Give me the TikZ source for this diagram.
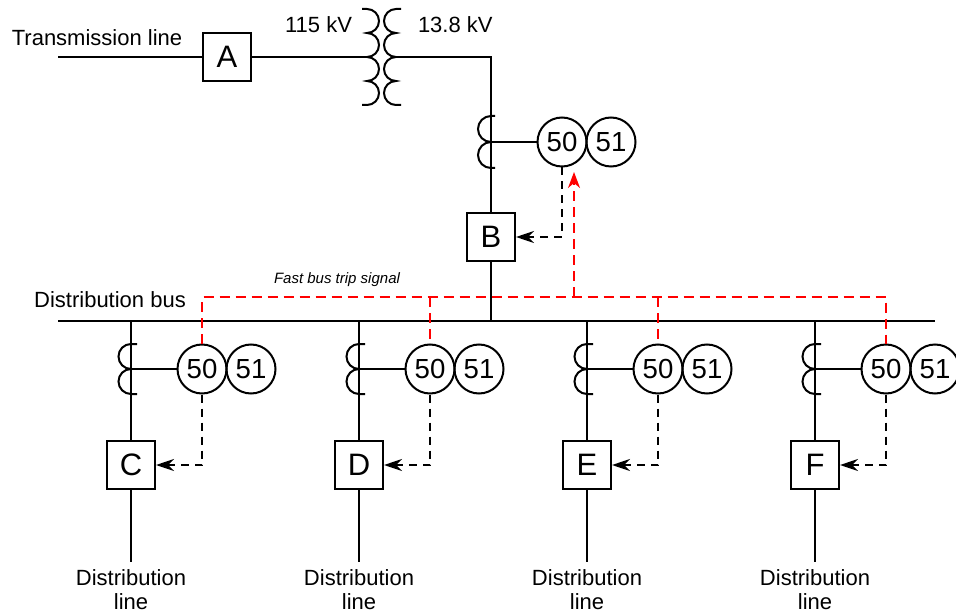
\documentclass[tikz,border=0pt]{standalone}
\usepackage{fontspec}
\setmainfont{Liberation Sans}
\usetikzlibrary{arrows.meta}

\tikzset{
  brk/.style={draw, minimum size=24pt, inner sep=0pt, font=\fontsize{15.5}{18}\selectfont},
  relay/.style={draw, circle, minimum size=24.5pt, inner sep=0pt, font=\fontsize{13.8}{16}\selectfont},
  lbl/.style={font=\fontsize{11}{12}\selectfont, inner sep=0pt, align=center},
  trip/.style={dash pattern=on 4pt off 3pt, -{Stealth[length=9pt,width=6pt,inset=3pt]}},
  fast/.style={red, dash pattern=on 5pt off 3pt},
}

\begin{document}
\begin{tikzpicture}[x=0.5pt,y=-0.5pt,line width=1pt]
  \useasboundingbox (0,0) rectangle (956,614);
  % transmission line, breaker A and transformer
  \node[lbl] (tlab) at (97,38) {Transmission line};
  \coordinate (tl) at (58,57);
  \node[brk] (A) at (227,57) {A};
  \coordinate (tp) at (367,57);
  \coordinate (ts) at (396,57);
  \coordinate (tk) at (491,57);
  \draw (tl) -- (A);
  \draw (A) -- (tp);
  \draw (362,9) -- (367,9) arc[start angle=90,end angle=-90,radius=6pt] arc[start angle=90,end angle=-90,radius=6pt]
    arc[start angle=90,end angle=-90,radius=6pt] arc[start angle=90,end angle=-90,radius=6pt] -- (362,105);
  \draw (401,9) -- (396,9) arc[start angle=90,end angle=270,radius=6pt] arc[start angle=90,end angle=270,radius=6pt]
    arc[start angle=90,end angle=270,radius=6pt] arc[start angle=90,end angle=270,radius=6pt] -- (401,105);
  \node[lbl, anchor=east] (vp) at (353,25) {115 kV};
  \node[lbl, anchor=west] (vs) at (417,25) {13.8 kV};
  % feeder to the bus, breaker B
  \node[brk] (B) at (491,237) {B};
  \coordinate (busB) at (491,321);
  \draw (ts) -- (tk) -- (B);
  \draw (B) -- (busB);
  \draw (495,116) -- (491,116) arc[start angle=90,end angle=270,radius=6.5pt] arc[start angle=90,end angle=270,radius=6.5pt] -- (495,168);
  \coordinate (ctB) at (491,142);
  \node[relay] (r50B) at (562,142) {50};
  \node[relay] (r51B) at (611,142) {51};
  \draw (ctB) -- (r50B);
  \draw[trip] (r50B.south) |- (B.east);
  % distribution bus
  \node[lbl] (blab) at (110,300) {Distribution bus};
  \coordinate (bus0) at (58,321);
  \coordinate (bus1) at (935,321);
  \draw (bus0) -- (bus1);
  % feeder C
  \coordinate (busC) at (131,321);
  \node[brk] (C) at (131,465) {C};
  \coordinate (endC) at (131,562);
  \draw (busC) -- (C);
  \draw (C) -- (endC);
  \draw (137,344) -- (131,344) arc[start angle=90,end angle=270,radius=6.25pt] arc[start angle=90,end angle=270,radius=6.25pt] -- (137,394);
  \coordinate (ctC) at (131,369);
  \node[relay] (r50C) at (202,369) {50};
  \node[relay] (r51C) at (251,369) {51};
  \draw (ctC) -- (r50C);
  \draw[trip] (r50C.south) |- (C.east);
  \node[lbl] (lC) at (131,590) {Distribution\\line};
  % feeder D
  \coordinate (busD) at (359,321);
  \node[brk] (D) at (359,465) {D};
  \coordinate (endD) at (359,562);
  \draw (busD) -- (D);
  \draw (D) -- (endD);
  \draw (365,344) -- (359,344) arc[start angle=90,end angle=270,radius=6.25pt] arc[start angle=90,end angle=270,radius=6.25pt] -- (365,394);
  \coordinate (ctD) at (359,369);
  \node[relay] (r50D) at (430,369) {50};
  \node[relay] (r51D) at (479,369) {51};
  \draw (ctD) -- (r50D);
  \draw[trip] (r50D.south) |- (D.east);
  \node[lbl] (lD) at (359,590) {Distribution\\line};
  % feeder E
  \coordinate (busE) at (587,321);
  \node[brk] (E) at (587,465) {E};
  \coordinate (endE) at (587,562);
  \draw (busE) -- (E);
  \draw (E) -- (endE);
  \draw (593,344) -- (587,344) arc[start angle=90,end angle=270,radius=6.25pt] arc[start angle=90,end angle=270,radius=6.25pt] -- (593,394);
  \coordinate (ctE) at (587,369);
  \node[relay] (r50E) at (658,369) {50};
  \node[relay] (r51E) at (707,369) {51};
  \draw (ctE) -- (r50E);
  \draw[trip] (r50E.south) |- (E.east);
  \node[lbl] (lE) at (587,590) {Distribution\\line};
  % feeder F
  \coordinate (busF) at (815,321);
  \node[brk] (F) at (815,465) {F};
  \coordinate (endF) at (815,562);
  \draw (busF) -- (F);
  \draw (F) -- (endF);
  \draw (821,344) -- (815,344) arc[start angle=90,end angle=270,radius=6.25pt] arc[start angle=90,end angle=270,radius=6.25pt] -- (821,394);
  \coordinate (ctF) at (815,369);
  \node[relay] (r50F) at (886,369) {50};
  \node[relay] (r51F) at (935,369) {51};
  \draw (ctF) -- (r50F);
  \draw[trip] (r50F.south) |- (F.east);
  \node[lbl] (lF) at (815,590) {Distribution\\line};
  % fast bus trip
  \coordinate (fb) at (0,297);
  \coordinate (fbB) at (574,297);
  \coordinate (tipB) at (574,172);
  \node[lbl, font=\fontsize{7.5}{9}\selectfont\itshape] (flab) at (337,280) {Fast bus trip signal};
  \draw[fast] (r50C.north) -- (r50C.north |- fb) -- (r50F.north |- fb) -- (r50F.north);
  \draw[fast] (r50D.north |- fb) -- (r50D.north);
  \draw[fast] (r50E.north |- fb) -- (r50E.north);
  \draw[fast, -{Stealth[length=8pt,width=6pt,inset=2.5pt]}] (fbB) -- (tipB);
\end{tikzpicture}
\end{document}
